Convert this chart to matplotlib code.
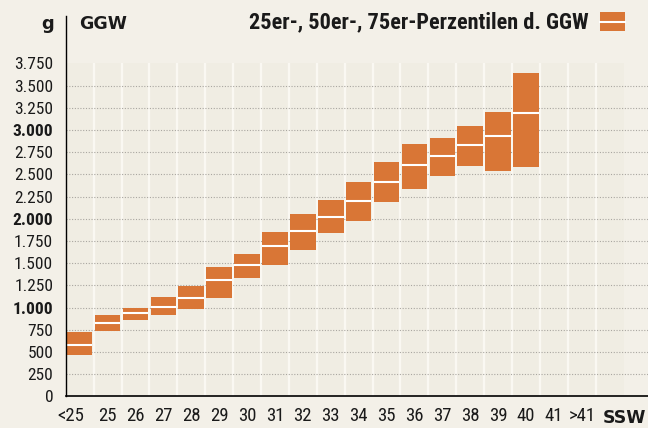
import numpy as np
import matplotlib
matplotlib.use("Agg")
import matplotlib.pyplot as plt
from matplotlib.patches import Rectangle
from matplotlib.lines import Line2D
from matplotlib.transforms import ScaledTranslation

# SSW classes (gestational week) and GGW percentiles in g
categories = ['<25', '25', '26', '27', '28', '29', '30', '31', '32', '33',
              '34', '35', '36', '37', '38', '39', '40', '41', '>41']
p25 = [465, 735, 860, 915, 985, 1110, 1335, 1480, 1650, 1840,
       1975, 2190, 2335, 2480, 2595, 2540, 2585, np.nan, np.nan]
p50 = [580, 825, 940, 1005, 1110, 1315, 1475, 1695, 1865, 2015,
       2200, 2415, 2600, 2710, 2830, 2935, 3190, np.nan, np.nan]
p75 = [720, 920, 1000, 1120, 1245, 1460, 1605, 1850, 2055, 2210,
       2415, 2640, 2840, 2910, 3045, 3200, 3640, np.nan, np.nan]
yticks = list(range(0, 3751, 250))
bold_ticks = [1000, 2000, 3000]

ORANGE = '#D97636'
BG = '#F3F0E8'
PLOT_BG = '#F0EDE3'
SEP = '#FAF8F2'
TXT = '#1a1a1a'

plt.rcParams['font.family'] = ['Roboto Condensed', 'DejaVu Sans']

W, H = 648, 428
fig = plt.figure(figsize=(W / 100, H / 100), dpi=100, facecolor=BG)
ax = fig.add_axes([65.7 / W, (H - 396.4) / H, (W - 65.7) / W, (396.4 - 63.3) / H])
ax.set_facecolor(BG)

colw = 27.9
ncols = 20
ax.set_xlim(-0.5, -0.5 + (W - 65.7) / colw)
ax.set_ylim(0, 3750)

# plot band + white column separators
ax.axvspan(-0.5, ncols - 0.5, color=PLOT_BG, zorder=0, lw=0)
for i in range(ncols - 1):
    ax.axvline(i + 0.5, color=SEP, lw=1.7, zorder=1)

# dotted grid
for v in yticks[1:-1]:
    ax.axhline(v, color='#a9a6a0', lw=0.8, ls=(0, (1, 1.5)), zorder=1)

x = np.arange(len(categories))
lo = np.array(p25, dtype=float)
mid = np.array(p50, dtype=float)
hi = np.array(p75, dtype=float)
ok = ~np.isnan(lo)
bw = 0.92
ax.bar(x[ok], hi[ok] - lo[ok], bottom=lo[ok], width=bw, color=ORANGE, lw=0, zorder=2)
ax.hlines(mid[ok], x[ok] - bw / 2, x[ok] + bw / 2, color='white', lw=1.5, zorder=3)

# spines
for s in ['top', 'right', 'left']:
    ax.spines[s].set_visible(False)
ax.spines['bottom'].set_color('black')
ax.spines['bottom'].set_linewidth(1.2)
ax.spines['bottom'].set_zorder(4)
fig.add_artist(Line2D([65.7 / W, 65.7 / W], [(H - 396.4) / H, (H - 16) / H],
                      color='black', lw=1.0))

# ticks
ax.tick_params(length=0)
ax.set_yticks(yticks)
ax.set_yticklabels([f"{v:,}".replace(',', '.') for v in yticks])
for lab, v in zip(ax.get_yticklabels(), yticks):
    lab.set_fontsize(12.5)
    lab.set_color(TXT)
    if v in bold_ticks:
        lab.set_fontweight('bold')
ax.tick_params(axis='y', pad=9)

ax.set_xticks(x)
ax.set_xticklabels(categories, fontsize=13.5, color=TXT)
ax.tick_params(axis='x', pad=7.5)
first = ax.get_xticklabels()[0]
first.set_transform(first.get_transform() + ScaledTranslation(-8.5 / 100, 0, fig.dpi_scale_trans))

fig.text(646 / W, (H - 423) / H, 'SSW', ha='right', va='baseline',
         family='DejaVu Sans', fontweight='bold', fontsize=12.5, color=TXT)

# header
fig.text(54.3 / W, (H - 29) / H, 'g', ha='right', va='baseline',
         family='DejaVu Sans', fontweight='bold', fontsize=13, color=TXT)
fig.text(79.3 / W, (H - 29.3) / H, 'GGW', ha='left', va='baseline',
         family='DejaVu Sans', fontweight='bold', fontsize=12.5, color=TXT)
fig.text(588.3 / W, (H - 28.3) / H, '25er-, 50er-, 75er-Perzentilen d. GGW',
         ha='right', va='baseline', fontweight='bold', fontsize=16, color=TXT)

# legend swatch
fig.add_artist(Rectangle((600 / W, (H - 31) / H), 25 / W, 19 / H,
                         transform=fig.transFigure, color=ORANGE, lw=0))
fig.add_artist(Line2D([600 / W, 625 / W], [(H - 22.3) / H] * 2, color='white', lw=1.5))

fig.savefig('out.png', dpi=100, facecolor=BG)
